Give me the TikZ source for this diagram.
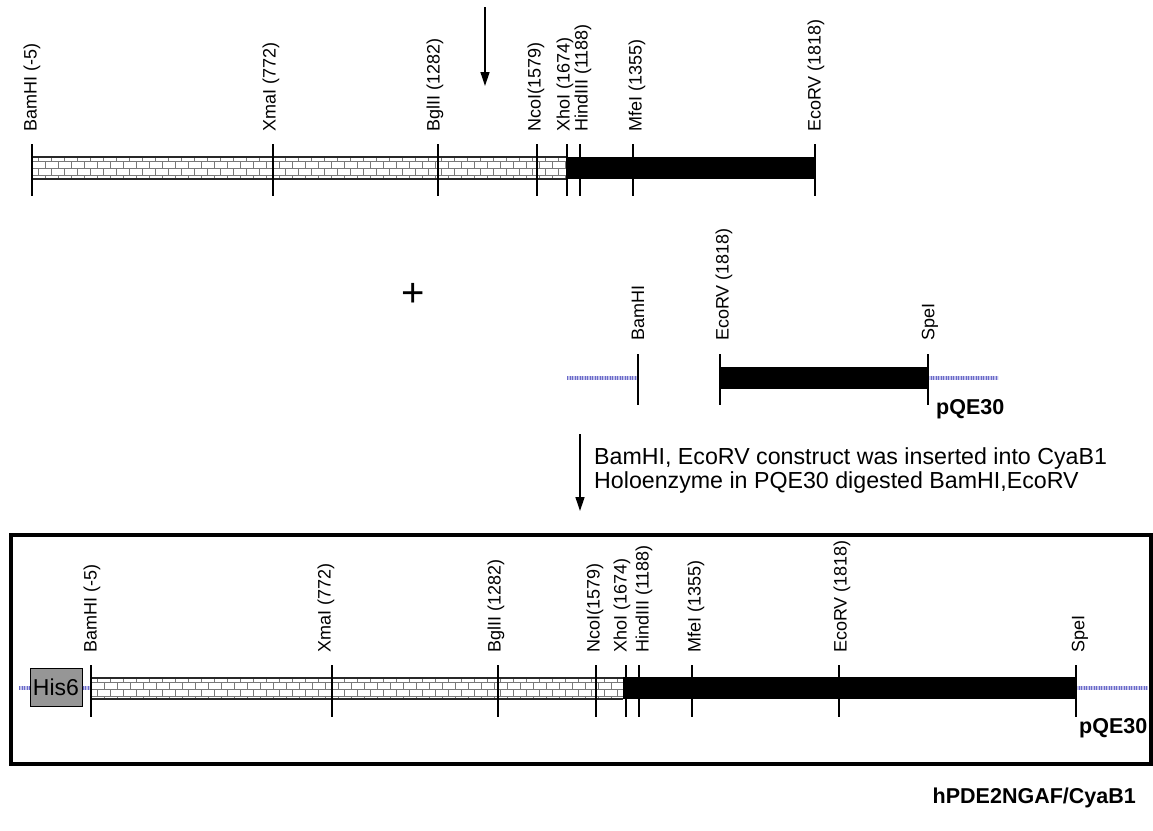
\documentclass[tikz,border=0pt]{standalone}
\usepackage{fontspec}
\setmainfont{Liberation Sans}
\usetikzlibrary{arrows.meta}
\definecolor{dnablue}{RGB}{105,105,200}
\definecolor{dnalight}{RGB}{195,195,235}
\definecolor{mortar}{RGB}{120,120,120}
\definecolor{barline}{RGB}{40,40,40}
\definecolor{hisgray}{RGB}{150,150,150}
\newcommand\brickbar[4]{%
  \fill[white] (#1,#3) rectangle (#2,#4);
  \begin{scope}
    \clip (#1,#3) rectangle (#2,#4);
    \draw[mortar,line width=0.9pt] (#1,#3+4) -- (#2,#3+4) (#1,#3+11) -- (#2,#3+11) (#1,#3+18) -- (#2,#3+18);
    \foreach \k in {0,...,42}{%
      \draw[mortar,line width=0.9pt] (#1+\k*13+6.5,#3) -- ++(0,4)
        (#1+\k*13,#3+4) -- ++(0,7)
        (#1+\k*13+6.5,#3+11) -- ++(0,7)
        (#1+\k*13,#3+18) -- ++(0,4);
    }
  \end{scope}
  \draw[barline,line width=1.5pt] (#1,#3) -- (#2,#3) (#1,#4) -- (#2,#4);
}
\begin{document}
\begin{tikzpicture}[x=1pt,y=-1pt,
  site/.style={line width=1.4pt,black},
  lbl/.style={rotate=90,anchor=west,inner sep=0pt,font=\fontsize{18}{18}\selectfont},
  vec/.style={line width=3.2pt,dnalight,postaction={draw=dnablue,line width=3.2pt,dash pattern=on 1.2pt off 1.3pt}},
  arr/.style={line width=1.3pt,-{Triangle[length=14pt,width=9pt]}},
  bold/.style={inner sep=0pt,font=\fontsize{21.5}{21.5}\selectfont\bfseries},
  note/.style={inner sep=0pt,anchor=base west,font=\fontsize{23.2}{24}\selectfont}
]
\useasboundingbox (0,0) rectangle (1153,830);

% ---------- top construct ----------
\coordinate (a1s) at (485,7);
\coordinate (a1e) at (485,86);
\draw[arr] (a1s) -- (a1e);

\brickbar{32}{567}{157}{179}
\fill[black] (567,157) rectangle (815,179);
\foreach \x in {32,273,438,537,567,580,633,815}{\draw[site] (\x,144) -- (\x,196);}
\node[lbl] (t1) at (32,132) {BamHI (-5)};
\node[lbl] (t2) at (271,132) {XmaI (772)};
\node[lbl] (t3) at (435,132) {BglII (1282)};
\node[lbl] (t4) at (536,132) {NcoI(1579)};
\node[lbl] (t5) at (565,132) {XhoI (1674)};
\node[lbl] (t6) at (583,132) {HindIII (1188)};
\node[lbl] (t7) at (637,132) {MfeI (1355)};
\node[lbl] (t8) at (816,132) {EcoRV (1818)};

% ---------- plus ----------
\node[inner sep=0pt,font=\fontsize{40}{40}\selectfont] (plus) at (413,295) {+};

% ---------- vector fragment ----------
\coordinate (v1a) at (567,378);
\coordinate (v1b) at (638,378);
\draw[vec] (v1a) -- (v1b);
\fill[black] (720,367) rectangle (928,389);
\coordinate (v2a) at (928,378);
\coordinate (v2b) at (998,378);
\draw[vec] (v2a) -- (v2b);
\foreach \x in {638,720,928}{\draw[site] (\x,354) -- (\x,405);}
\node[lbl] (m1) at (638,341) {BamHI};
\node[lbl] (m2) at (724,341) {EcoRV (1818)};
\node[lbl] (m3) at (930,341) {SpeI};
\node[bold,anchor=base west] (pq1) at (936,414) {pQE30};

% ---------- arrow + note ----------
\coordinate (a2s) at (580,434);
\coordinate (a2e) at (580,511);
\draw[arr] (a2s) -- (a2e);
\node[note] (n1) at (594,464) {BamHI, EcoRV construct was inserted into CyaB1};
\node[note] (n2) at (594,488) {Holoenzyme in PQE30 digested BamHI,EcoRV};

% ---------- final construct ----------
\draw[line width=4pt,black] (11,535) rectangle (1151,763.5);
\node[draw=black,line width=1pt,fill=hisgray,minimum width=52pt,minimum height=38pt,inner sep=0pt,font=\fontsize{23}{23}\selectfont] (his) at (56,687) {His6};
\coordinate (h0) at (19,688);
\coordinate (h1) at (91,688);
\draw[vec] (h0) -- (h0 -| his.west);
\draw[vec] (h1 -| his.east) -- (h1);
\brickbar{91}{623}{678}{699}
\fill[black] (623,677) rectangle (1076,699);
\coordinate (h2) at (1076,688);
\coordinate (h3) at (1148,688);
\draw[vec] (h2) -- (h3);
\foreach \x in {91,332,498,596,626,639,692,839,1076}{\draw[site] (\x,665) -- (\x,717);}
\node[lbl] (b1) at (92,653) {BamHI (-5)};
\node[lbl] (b2) at (326,653) {XmaI (772)};
\node[lbl] (b3) at (496,653) {BglII (1282)};
\node[lbl] (b4) at (595,653) {NcoI(1579)};
\node[lbl] (b5) at (622,653) {XhoI (1674)};
\node[lbl] (b6) at (644,653) {HindIII (1188)};
\node[lbl] (b7) at (696,653) {MfeI (1355)};
\node[lbl] (b8) at (842,653) {EcoRV (1818)};
\node[lbl] (b9) at (1080,653) {SpeI};
\node[bold,anchor=base west] (pq2) at (1079,733) {pQE30};
\node[bold,anchor=base east] (title) at (1136,803) {hPDE2NGAF/CyaB1};
\end{tikzpicture}
\end{document}
